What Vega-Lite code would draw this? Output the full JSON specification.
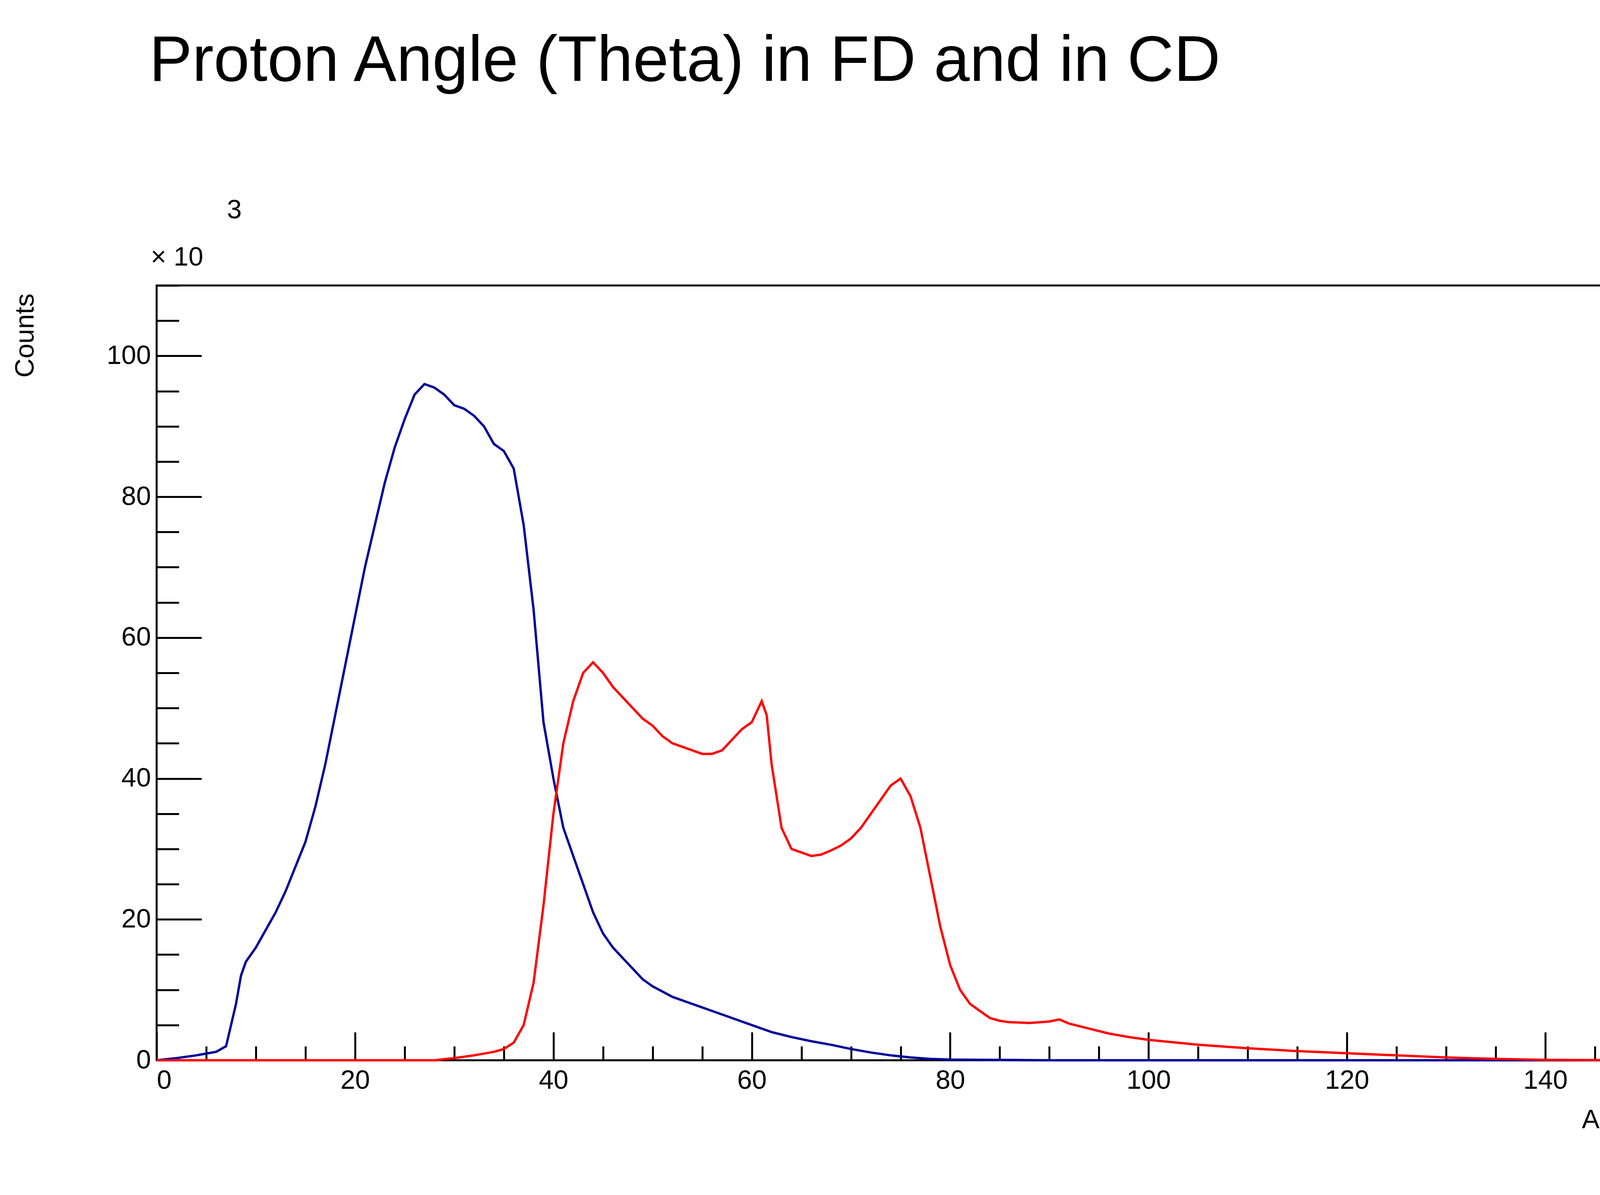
{
  "$schema": "https://vega.github.io/schema/vega-lite/v6.json",
  "autosize": {"type": "fit", "contains": "padding"},
  "width": 4700,
  "height": 3060,
  "padding": {"left": 30, "top": 75, "right": 478, "bottom": 158},
  "background": "white",
  "title": {
    "text": "Proton Angle (Theta) in FD and in CD",
    "anchor": "start",
    "dx": 351,
    "offset": 133,
    "baseline": "alphabetic",
    "fontSize": 165,
    "font": "Liberation Sans",
    "fontWeight": "normal",
    "color": "black"
  },
  "datasets": {
    "fd": [
      {"a": 0, "c": 0}, {"a": 2, "c": 0.3}, {"a": 4, "c": 0.7}, {"a": 6, "c": 1.2}, {"a": 7, "c": 2},
      {"a": 7.5, "c": 5}, {"a": 8, "c": 8}, {"a": 8.5, "c": 12}, {"a": 9, "c": 14}, {"a": 10, "c": 16},
      {"a": 11, "c": 18.5}, {"a": 12, "c": 21}, {"a": 13, "c": 24}, {"a": 14, "c": 27.5}, {"a": 15, "c": 31},
      {"a": 16, "c": 36}, {"a": 17, "c": 42}, {"a": 18, "c": 49}, {"a": 19, "c": 56}, {"a": 20, "c": 63},
      {"a": 21, "c": 70}, {"a": 22, "c": 76}, {"a": 23, "c": 82}, {"a": 24, "c": 87}, {"a": 25, "c": 91},
      {"a": 26, "c": 94.5}, {"a": 27, "c": 96}, {"a": 28, "c": 95.5}, {"a": 29, "c": 94.5}, {"a": 30, "c": 93},
      {"a": 31, "c": 92.5}, {"a": 32, "c": 91.5}, {"a": 33, "c": 90}, {"a": 34, "c": 87.5}, {"a": 35, "c": 86.5},
      {"a": 36, "c": 84}, {"a": 37, "c": 76}, {"a": 38, "c": 64}, {"a": 39, "c": 48}, {"a": 40, "c": 40},
      {"a": 41, "c": 33}, {"a": 42, "c": 29}, {"a": 43, "c": 25}, {"a": 44, "c": 21}, {"a": 45, "c": 18},
      {"a": 46, "c": 16}, {"a": 47, "c": 14.5}, {"a": 48, "c": 13}, {"a": 49, "c": 11.5}, {"a": 50, "c": 10.5},
      {"a": 52, "c": 9}, {"a": 54, "c": 8}, {"a": 56, "c": 7}, {"a": 58, "c": 6}, {"a": 60, "c": 5},
      {"a": 62, "c": 4}, {"a": 64, "c": 3.3}, {"a": 66, "c": 2.7}, {"a": 68, "c": 2.2}, {"a": 70, "c": 1.6},
      {"a": 72, "c": 1.1}, {"a": 74, "c": 0.7}, {"a": 76, "c": 0.4}, {"a": 78, "c": 0.2}, {"a": 80, "c": 0.1},
      {"a": 85, "c": 0.05}, {"a": 90, "c": 0}, {"a": 150, "c": 0}
    ],
    "cd": [
      {"a": 0, "c": 0}, {"a": 28, "c": 0}, {"a": 30, "c": 0.3}, {"a": 32, "c": 0.7}, {"a": 34, "c": 1.2},
      {"a": 35, "c": 1.6}, {"a": 36, "c": 2.5}, {"a": 37, "c": 5}, {"a": 38, "c": 11}, {"a": 39, "c": 22},
      {"a": 40, "c": 35}, {"a": 41, "c": 45}, {"a": 42, "c": 51}, {"a": 43, "c": 55}, {"a": 44, "c": 56.5},
      {"a": 45, "c": 55}, {"a": 46, "c": 53}, {"a": 47, "c": 51.5}, {"a": 48, "c": 50}, {"a": 49, "c": 48.5},
      {"a": 50, "c": 47.5}, {"a": 51, "c": 46}, {"a": 52, "c": 45}, {"a": 53, "c": 44.5}, {"a": 54, "c": 44},
      {"a": 55, "c": 43.5}, {"a": 56, "c": 43.5}, {"a": 57, "c": 44}, {"a": 58, "c": 45.5}, {"a": 59, "c": 47},
      {"a": 60, "c": 48}, {"a": 61, "c": 51}, {"a": 61.5, "c": 49}, {"a": 62, "c": 42}, {"a": 63, "c": 33},
      {"a": 64, "c": 30}, {"a": 65, "c": 29.5}, {"a": 66, "c": 29}, {"a": 67, "c": 29.2}, {"a": 68, "c": 29.8},
      {"a": 69, "c": 30.5}, {"a": 70, "c": 31.5}, {"a": 71, "c": 33}, {"a": 72, "c": 35}, {"a": 73, "c": 37},
      {"a": 74, "c": 39}, {"a": 75, "c": 40}, {"a": 76, "c": 37.5}, {"a": 77, "c": 33}, {"a": 78, "c": 26},
      {"a": 79, "c": 19}, {"a": 80, "c": 13.5}, {"a": 81, "c": 10}, {"a": 82, "c": 8}, {"a": 83, "c": 7},
      {"a": 84, "c": 6}, {"a": 85, "c": 5.6}, {"a": 86, "c": 5.4}, {"a": 88, "c": 5.3}, {"a": 90, "c": 5.5},
      {"a": 91, "c": 5.8}, {"a": 92, "c": 5.2}, {"a": 94, "c": 4.5}, {"a": 96, "c": 3.8}, {"a": 98, "c": 3.3},
      {"a": 100, "c": 2.9}, {"a": 105, "c": 2.2}, {"a": 110, "c": 1.7}, {"a": 115, "c": 1.3}, {"a": 120, "c": 1},
      {"a": 125, "c": 0.7}, {"a": 130, "c": 0.4}, {"a": 135, "c": 0.2}, {"a": 140, "c": 0.05}, {"a": 150, "c": 0}
    ]
  },
  "encoding": {
    "x": {
      "field": "a",
      "type": "quantitative",
      "scale": {"domain": [0, 150], "nice": false, "zero": false},
      "axis": {
        "title": "Angle",
        "values": [0, 5, 10, 15, 20, 25, 30, 35, 40, 45, 50, 55, 60, 65, 70, 75, 80, 85, 90, 95, 100, 105, 110, 115, 120, 125, 130, 135, 140, 145, 150],
        "labelExpr": "datum.value % 20 === 0 && datum.value < 150 ? datum.label : ''",
        "tickSize": {"condition": {"test": "datum.value % 20 === 0", "value": -72}, "value": -36},
        "titleAnchor": "end",
        "titleAlign": "right",
        "titleBaseline": "alphabetic",
        "titleX": 3822,
        "titleY": 173
      }
    },
    "y": {
      "field": "c",
      "type": "quantitative",
      "scale": {"domain": [0, 110], "nice": false},
      "axis": {
        "title": "Counts",
        "values": [0, 5, 10, 15, 20, 25, 30, 35, 40, 45, 50, 55, 60, 65, 70, 75, 80, 85, 90, 95, 100, 105, 110],
        "labelExpr": "datum.value % 20 === 0 ? datum.label : ''",
        "tickSize": {"condition": {"test": "datum.value % 20 === 0", "value": -115}, "value": -57},
        "titleAngle": -90,
        "titleAlign": "right",
        "titleBaseline": "top",
        "titleX": -370,
        "titleY": 20
      }
    }
  },
  "layer": [
    {"data": {"name": "fd"}, "mark": {"type": "line", "color": "#000099", "strokeWidth": 6}},
    {"data": {"name": "cd"}, "mark": {"type": "line", "color": "#ff0000", "strokeWidth": 6}},
    {
      "data": {"values": [{"a": 0, "c": 110, "t": "× 10"}]},
      "mark": {"type": "text", "align": "left", "baseline": "alphabetic", "dx": -15, "dy": -51, "fontSize": 68, "font": "Liberation Sans"},
      "encoding": {"text": {"field": "t"}}
    },
    {
      "data": {"values": [{"a": 0, "c": 110, "t": "3"}]},
      "mark": {"type": "text", "align": "left", "baseline": "alphabetic", "dx": 180, "dy": -172, "fontSize": 68, "font": "Liberation Sans"},
      "encoding": {"text": {"field": "t"}}
    }
  ],
  "config": {
    "view": {"stroke": "black", "strokeWidth": 5},
    "font": "Liberation Sans",
    "axis": {
      "grid": false,
      "domain": false,
      "tickColor": "black",
      "tickWidth": 5,
      "labelFontSize": 68,
      "labelColor": "black",
      "labelFont": "Liberation Sans",
      "titleFontSize": 68,
      "titleFontWeight": "normal",
      "titleColor": "black",
      "titleFont": "Liberation Sans"
    },
    "axisX": {"labelPadding": 90},
    "axisY": {"labelPadding": 130}
  }
}
